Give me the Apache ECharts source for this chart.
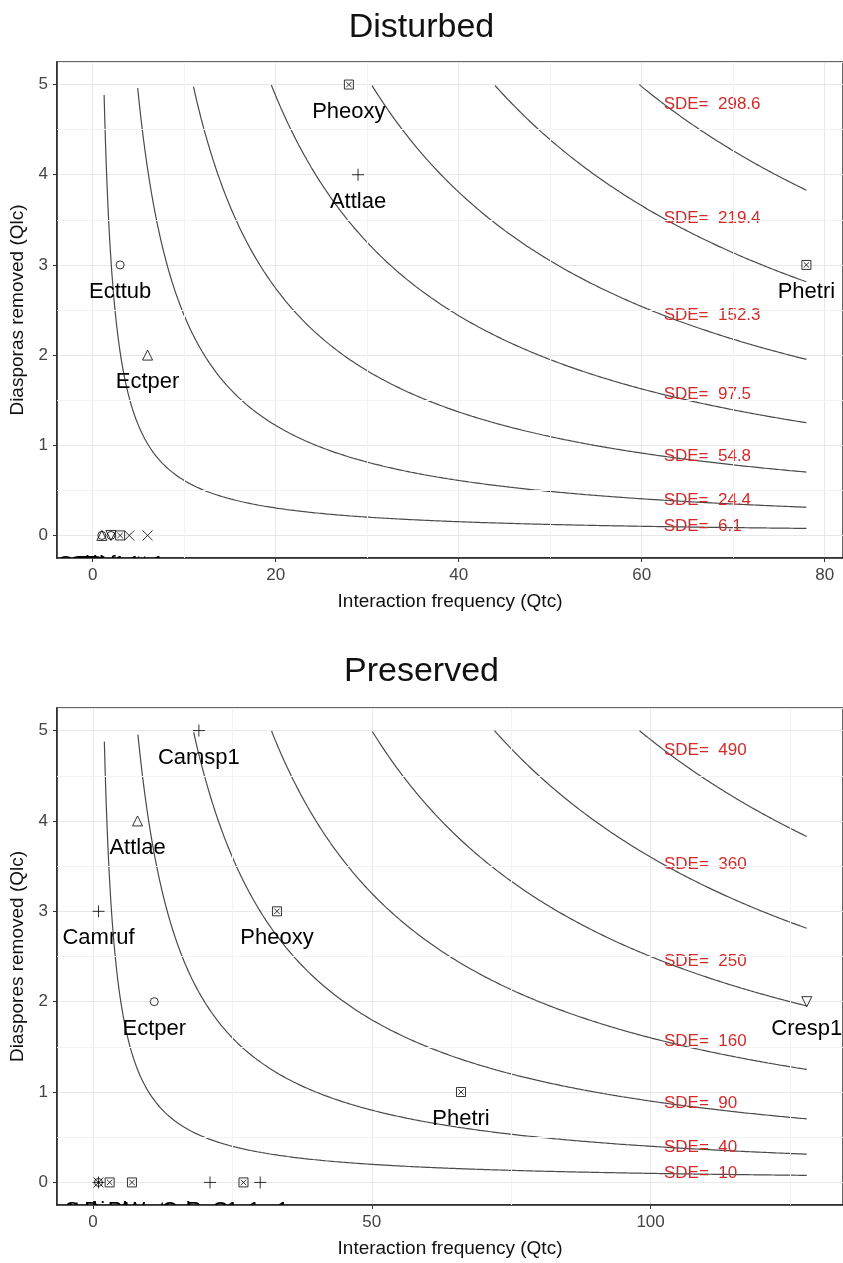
<!DOCTYPE html>
<html>
<head>
<meta charset="utf-8">
<script src="https://cdn.jsdelivr.net/npm/echarts@6/dist/echarts.min.js"></script>
<style>
  html, body { margin: 0; padding: 0; background: #fff; }
  #main { width: 843px; height: 1263px; }
</style>
</head>
<body>
<div id="main"></div>
<script>
// ---- data: Disturbed ----
var disNames = ['Pheoxy', 'Attlae', 'Ecttub', 'Phetri', 'Ectper',
                'Camruf', 'Solsp1', 'Cresp1', 'Dinaus', 'Pheatt', 'Wasaur', 'Gnasp1'];
var disQtc = [28, 29, 3, 78, 6, 1, 1, 2, 2, 3, 4, 6];
var disQlc = [5, 4, 3, 3, 2, 0, 0, 0, 0, 0, 0, 0];
var disGroup = [1, 2, 3, 1, 4, 4, 3, 5, 3, 1, 6, 6];
var disSde = [6.1, 24.4, 54.8, 97.5, 152.3, 219.4, 298.6];

// ---- data: Preserved ----
var preNames = ['Camsp1', 'Attlae', 'Camruf', 'Pheoxy', 'Ectper', 'Cresp1', 'Phetri',
                'Ecttub', 'Solsp1', 'Dinaus', 'Pheatt', 'Wasaur', 'Odosp1', 'Pacsp1', 'Gnasp1'];
var preQtc = [19, 8, 1, 33, 11, 128, 66, 1, 1, 1, 3, 7, 21, 27, 30];
var preQlc = [5, 4, 3, 3, 2, 2, 1, 0, 0, 0, 0, 0, 0, 0, 0];
var preGroup = [2, 4, 2, 1, 3, 5, 1, 3, 2, 6, 1, 1, 2, 1, 2];
var preSde = [10, 40, 90, 160, 250, 360, 490];

var maxQlc = 5;

// ---- styling ----
var symbols = {
    1: 'path://M0,0H10V10H0Z M2,2L8,8 M8,2L2,8',
    2: 'path://M5,0L5,10 M0,5L10,5',
    3: 'circle',
    4: 'path://M5,0L10,9L0,9Z',
    5: 'path://M0,0L10,0L5,9Z',
    6: 'path://M0,0L10,10 M10,0L0,10'
};
var sizes = { 1: 9, 2: 12, 3: 8, 4: 10, 5: 10, 6: 10 };

// label offsets (px) for the baseline points whose labels are pushed apart
var disNudge = { Camruf: -22, Solsp1: -10, Cresp1: -6, Dinaus: 0, Pheatt: -4, Wasaur: -8, Gnasp1: -22 };
var preNudge = { Ecttub: -25, Solsp1: 0, Dinaus: 20, Pheatt: 30, Wasaur: 30, Odosp1: -10, Pacsp1: -20, Gnasp1: -10 };

var FONT = 'Liberation Sans, Arial, sans-serif';

function pointSeries(idx, names, qtc, qlc, group) {
    var data = names.map(function (n, i) {
        return {
            name: n,
            value: [qtc[i], qlc[i]],
            symbol: symbols[group[i]],
            symbolSize: sizes[group[i]]
        };
    });
    return {
        type: 'scatter', xAxisIndex: idx, yAxisIndex: idx,
        data: data, silent: true, z: 5,
        itemStyle: { color: 'rgba(0,0,0,0)', borderColor: '#000', borderWidth: 1 }
    };
}

function labelSeries(idx, names, qtc, qlc, nudge) {
    var data = names.map(function (n, i) { return [qtc[i], qlc[i], i]; });
    return {
        type: 'custom', xAxisIndex: idx, yAxisIndex: idx, clip: true, silent: true, z: 6,
        data: data,
        encode: { x: 0, y: 1 },
        renderItem: function (params, api) {
            var p = api.coord([api.value(0), api.value(1)]);
            var name = names[api.value(2)];
            var dx = nudge[name] || 0;
            var dy = api.value(1) === 0 ? 29 : 27;
            return {
                type: 'text', x: p[0] + dx, y: p[1] + dy,
                style: { text: name, fill: '#000', font: '22px ' + FONT, align: 'center', verticalAlign: 'middle' }
            };
        }
    };
}

function curveSeries(idx, levels, xmax) {
    var out = [];
    levels.forEach(function (s) {
        var pts = [];
        for (var i = 1; i < 1000; i++) {
            var x = i * xmax / 999;
            var y = s / x;
            if (y <= maxQlc) pts.push([x, y]);
        }
        out.push({
            type: 'line', xAxisIndex: idx, yAxisIndex: idx, data: pts,
            showSymbol: false, silent: true, z: 3,
            lineStyle: { color: '#4a4a4a', width: 1.2 }
        });
    });
    return out;
}

function sdeLabelSeries(idx, levels, xmax) {
    var lx = 0.8 * xmax;
    var data = levels.map(function (s) { return [lx, s / lx, s]; });
    return {
        type: 'custom', xAxisIndex: idx, yAxisIndex: idx, silent: true, z: 4,
        data: data, encode: { x: 0, y: 1 },
        renderItem: function (params, api) {
            var p = api.coord([api.value(0), api.value(1)]);
            return {
                type: 'text', x: p[0], y: p[1],
                style: { text: 'SDE=  ' + api.value(2), fill: '#d42a2a', font: '17px ' + FONT, align: 'left', verticalAlign: 'middle' }
            };
        }
    };
}

function minorGrid(idx, xs, ys) {
    var d = xs.map(function (v) { return { xAxis: v }; })
        .concat(ys.map(function (v) { return { yAxis: v }; }));
    return {
        type: 'line', xAxisIndex: idx, yAxisIndex: idx, data: [], silent: true, z: 1,
        markLine: {
            silent: true, symbol: 'none', label: { show: false },
            lineStyle: { color: '#f3f3f3', width: 1, type: 'solid' },
            data: d
        }
    };
}

function xAx(idx, min, max, split) {
    return {
        type: 'value', gridIndex: idx, min: min, max: max, splitNumber: split,
        name: 'Interaction frequency (Qtc)', nameLocation: 'middle', nameGap: 34,
        nameTextStyle: { fontSize: 19, color: '#111', fontFamily: FONT },
        axisLine: { show: true, onZero: false, lineStyle: { color: '#222', width: 1.5 } },
        axisTick: { show: true, length: 4, lineStyle: { color: '#333' } },
        axisLabel: { fontSize: 17, color: '#444', fontFamily: FONT, margin: 9, showMinLabel: false, showMaxLabel: false },
        splitLine: { show: true, lineStyle: { color: '#e8e8e8', width: 1 } }
    };
}

function yAx(idx, name) {
    return {
        type: 'value', gridIndex: idx, min: -0.25, max: 5.25, splitNumber: 5,
        name: name, nameLocation: 'middle', nameGap: 26,
        nameTextStyle: { fontSize: 19, color: '#111', fontFamily: FONT },
        axisLine: { show: true, onZero: false, lineStyle: { color: '#222', width: 1.5 } },
        axisTick: { show: true, length: 4, lineStyle: { color: '#333' } },
        axisLabel: { fontSize: 17, color: '#444', fontFamily: FONT, margin: 9, showMinLabel: false, showMaxLabel: false },
        splitLine: { show: true, lineStyle: { color: '#e8e8e8', width: 1 } }
    };
}

var chart = echarts.init(document.getElementById('main'));
var option = {
    backgroundColor: '#fff',
    animation: false,
    title: [
        { text: 'Disturbed', left: 'center', top: 6, textStyle: { fontSize: 34, fontWeight: 'normal', color: '#111', fontFamily: FONT } },
        { text: 'Preserved', left: 'center', top: 650, textStyle: { fontSize: 34, fontWeight: 'normal', color: '#111', fontFamily: FONT } }
    ],
    grid: [
        { left: 57, top: 62, width: 788, height: 496, show: true, borderColor: '#333', borderWidth: 1.5, backgroundColor: '#fff' },
        { left: 57, top: 708, width: 788, height: 497, show: true, borderColor: '#333', borderWidth: 1.5, backgroundColor: '#fff' }
    ],
    xAxis: [xAx(0, -3.9, 82.0, 5), xAx(1, -6.44, 134.5, 3)],
    yAxis: [yAx(0, 'Diasporas removed (Qlc)'), yAx(1, 'Diaspores removed (Qlc)')],
    series: [].concat(
        [minorGrid(0, [10, 30, 50, 70], [0.5, 1.5, 2.5, 3.5, 4.5])],
        curveSeries(0, disSde, Math.max.apply(null, disQtc)),
        [sdeLabelSeries(0, disSde, Math.max.apply(null, disQtc))],
        [pointSeries(0, disNames, disQtc, disQlc, disGroup)],
        [labelSeries(0, disNames, disQtc, disQlc, disNudge)],
        [minorGrid(1, [25, 75, 125], [0.5, 1.5, 2.5, 3.5, 4.5])],
        curveSeries(1, preSde, Math.max.apply(null, preQtc)),
        [sdeLabelSeries(1, preSde, Math.max.apply(null, preQtc))],
        [pointSeries(1, preNames, preQtc, preQlc, preGroup)],
        [labelSeries(1, preNames, preQtc, preQlc, preNudge)]
    )
};
chart.setOption(option);
</script>
</body>
</html>
